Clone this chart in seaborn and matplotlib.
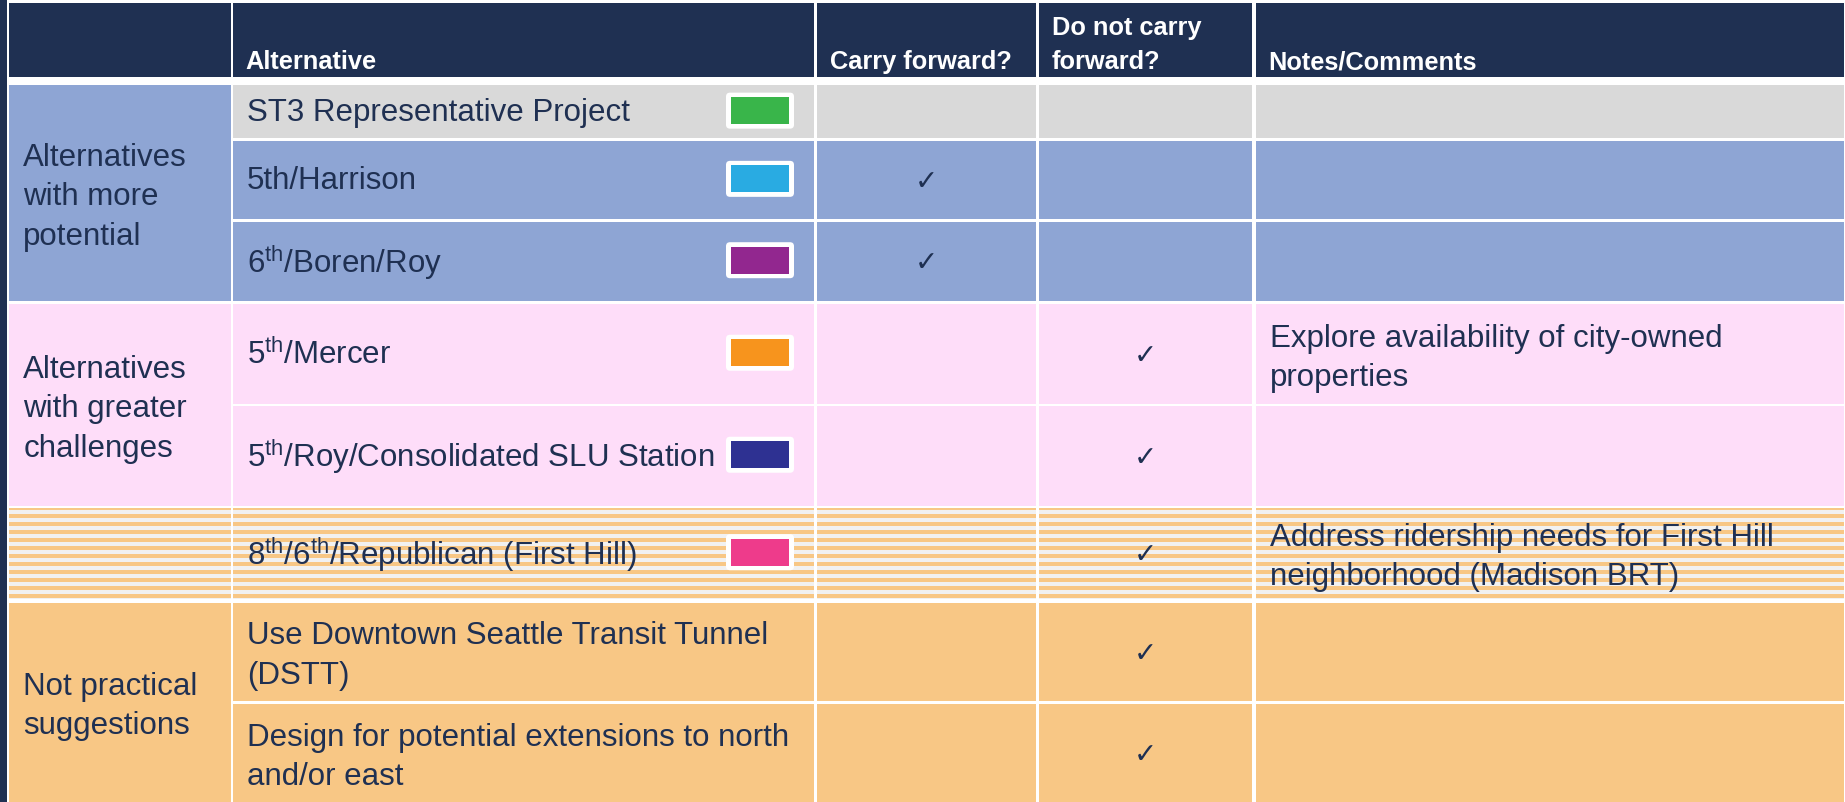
import matplotlib
matplotlib.use("Agg")
import matplotlib.pyplot as plt
import seaborn as sns
from matplotlib.patches import Rectangle, FancyBboxPatch

# ---------------- data ----------------
headers = ["", "Alternative", "Carry forward?", "Do not carry\nforward?", "Notes/Comments"]
group_labels = ["Alternatives\nwith more\npotential",
                "Alternatives\nwith greater\nchallenges",
                "",
                "Not practical\nsuggestions"]
group_of_row = [0, 0, 0, 1, 1, 2, 3, 3]
alternatives = ["ST3 Representative Project",
                "5th/Harrison",
                r"6$^{\mathregular{th}}$/Boren/Roy",
                r"5$^{\mathregular{th}}$/Mercer",
                r"5$^{\mathregular{th}}$/Roy/Consolidated SLU Station",
                r"8$^{\mathregular{th}}$/6$^{\mathregular{th}}$/Republican (First Hill)",
                "Use Downtown Seattle Transit Tunnel\n(DSTT)",
                "Design for potential extensions to north\nand/or east"]
carry_forward = [False, True, True, False, False, False, False, False]
not_carry_forward = [False, False, False, True, True, True, True, True]
notes = ["", "", "",
         "Explore availability of city-owned\nproperties",
         "",
         "Address ridership needs for First Hill\nneighborhood (Madison BRT)",
         "", ""]
swatch_colors = ["#39B54A", "#29ABE2", "#92278F", "#F7941D", "#2E3192", "#EE3B8B", None, None]
row_fill = ["gray", "blue", "blue", "pink", "pink", "stripe", "orange", "orange"]
group_fill = ["blue", "pink", "stripe", "orange"]

# ---------------- style ----------------
sns.set_theme(style="white")
plt.rcParams['font.family'] = ['Liberation Sans', 'DejaVu Sans']

NAVY = "#1F3052"
FILLS = {"gray": "#D9D9D9", "blue": "#8EA5D4", "pink": "#FEDDF9",
         "orange": "#F8C785", "stripe": "#F1F1F1"}
STRIPE = "#F8C785"

W, H = 1845, 803
fig = plt.figure(figsize=(W / 100, H / 100), dpi=100)
ax = fig.add_axes([0, 0, 1, 1])
ax.set_xlim(0, W)
ax.set_ylim(H, 0)
ax.axis("off")
fig.patch.set_facecolor("white")

# layout (pixels)
col_left = [9.3, 232.7, 816.6, 1039.0, 1255.5]
col_right = [230.7, 814.3, 1035.5, 1252.0, 1844.0]
header_top, header_bottom = 4.0, 77.5
row_top = [86.0, 141.7, 222.7, 305.0, 406.5, 509.0, 603.5, 704.7]
row_bottom = [139.3, 220.0, 301.7, 404.5, 507.0, 599.5, 701.7, 806.0]
pad = 14
CELL_PT = 22.5
HEAD_PT = 18.3
LS = 1.40


def ml_shift(s):
    return 3.5 if "\n" in s else 0.0


# outer dark frame pieces
ax.add_patch(Rectangle((0, 0), 7.0, H, color=NAVY, lw=0))
ax.add_patch(Rectangle((0, 0), W, 1.4, color=NAVY, lw=0))


def fill_cell(x0, x1, y0, y1, kind):
    ax.add_patch(Rectangle((x0, y0), x1 - x0, y1 - y0, color=FILLS[kind], lw=0))
    if kind == "stripe":
        k = 0
        while True:
            s0 = 507 + 8 * k
            if s0 >= y1:
                break
            a, b = max(s0, y0), min(s0 + 4, y1)
            if b > a:
                ax.add_patch(Rectangle((x0, a), x1 - x0, b - a, color=STRIPE, lw=0))
            k += 1


# header
for c, h in enumerate(headers):
    ax.add_patch(Rectangle((col_left[c], header_top), col_right[c] - col_left[c],
                           header_bottom - header_top, color=NAVY, lw=0))
    if h:
        ax.text(col_left[c] + pad - 1, 74, h, color="white", fontsize=HEAD_PT,
                fontweight="bold", ha="left", va="bottom", linespacing=1.52)

# group cells (first column)
for g, lab in enumerate(group_labels):
    rows = [i for i, gg in enumerate(group_of_row) if gg == g]
    y0, y1 = row_top[rows[0]], row_bottom[rows[-1]]
    fill_cell(col_left[0], col_right[0], y0, y1, group_fill[g])
    if lab:
        yc = (y0 + min(y1, H)) / 2
        ax.text(col_left[0] + pad, yc + ml_shift(lab), lab, color=NAVY,
                fontsize=CELL_PT, ha="left", va="center", linespacing=LS)

# body rows
for i, alt in enumerate(alternatives):
    y0, y1 = row_top[i], row_bottom[i]
    yc = (y0 + min(y1, H)) / 2
    for c in range(1, 5):
        fill_cell(col_left[c], col_right[c], y0, y1, row_fill[i])
    ax.text(col_left[1] + pad, yc + ml_shift(alt), alt, color=NAVY,
            fontsize=CELL_PT, ha="left", va="center", linespacing=LS)
    if swatch_colors[i]:
        sx, sw, sh = 726, 68, 36
        sy = yc - sh / 2 - 1
        ax.add_patch(FancyBboxPatch((sx, sy), sw, sh,
                                    boxstyle="round,pad=0,rounding_size=4",
                                    fc="white", ec="none"))
        ax.add_patch(Rectangle((sx + 5, sy + 4.5), sw - 10, sh - 9,
                               color=swatch_colors[i], lw=0))
    if carry_forward[i]:
        ax.text((col_left[2] + col_right[2]) / 2, yc + 1, "\u2713", color=NAVY,
                fontsize=20, ha="center", va="center", family="DejaVu Sans")
    if not_carry_forward[i]:
        ax.text((col_left[3] + col_right[3]) / 2, yc + 1, "\u2713", color=NAVY,
                fontsize=20, ha="center", va="center", family="DejaVu Sans")
    if notes[i]:
        ax.text(col_left[4] + pad, yc + ml_shift(notes[i]), notes[i], color=NAVY,
                fontsize=CELL_PT, ha="left", va="center", linespacing=LS)

fig.savefig("out.png", dpi=100, facecolor="white")
